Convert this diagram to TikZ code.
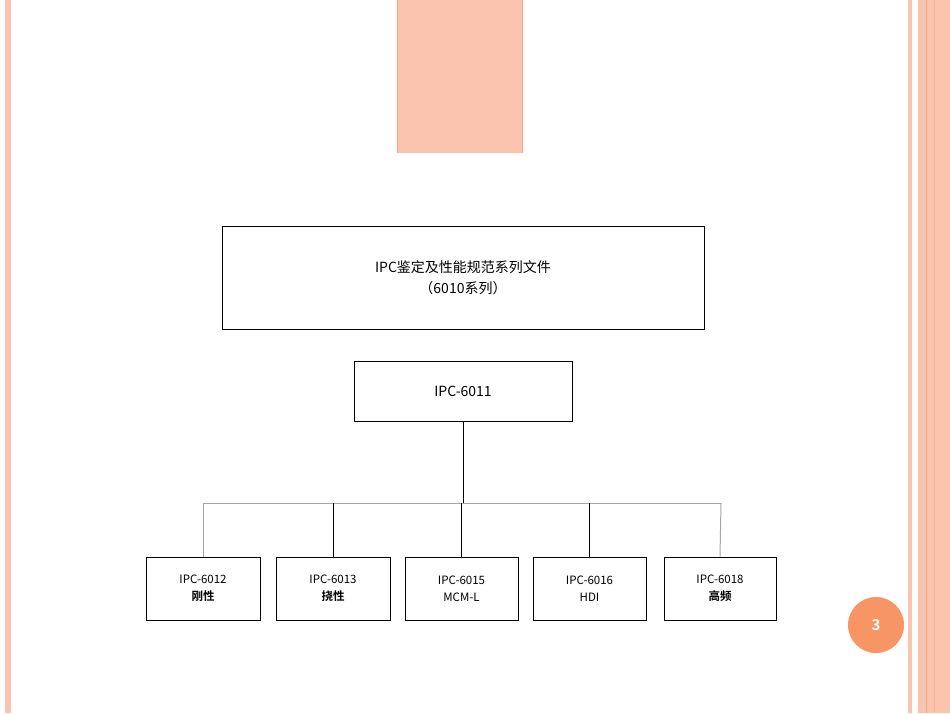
\documentclass[tikz,border=0pt]{standalone}
\usepackage{fontspec}
\setmainfont{Noto Sans CJK SC}[BoldFont={Noto Sans CJK SC Bold}]
\begin{document}
\begin{tikzpicture}[x=1pt,y=-1pt,
  box/.style={draw=black,line width=1pt,align=center,inner sep=0pt},
  conn/.style={line width=1pt},
  gconn/.style={line width=1pt,draw=gray!70}]
\definecolor{peach}{HTML}{FBC4AE}
\definecolor{peachd}{HTML}{F4A583}
\definecolor{orng}{HTML}{F79565}
\useasboundingbox (0,0) rectangle (950,713);
\fill[white] (0,0) rectangle (950,713);
\fill[peach] (5,0) rectangle (11,713);
\fill[peach] (908,0) rectangle (912,713);
\fill[peach] (918,0) rectangle (950,713);
\draw[peachd,line width=0.8pt] (926,0) -- (926,713);
\draw[peach!80!orange,line width=0.6pt] (934,0) -- (934,713);
\fill[peach] (397,0) rectangle (522,153);
\draw[peachd,line width=0.8pt] (397,0) -- (397,153) (522,0) -- (522,153);
\node[box,minimum width=482pt,minimum height=103pt,font=\fontsize{14}{21}\selectfont] (top) at (463,277.5) {IPC鉴定及性能规范系列文件\\（6010系列）};
\node[box,minimum width=218pt,minimum height=60pt,font=\fontsize{14}{17}\selectfont] (mid) at (463,391) {IPC-6011};
\coordinate (j) at (463,503);
\tikzset{bb/.style={box,minimum height=63pt,font=\fontsize{11.5}{17}\selectfont}}
\node[bb,minimum width=114pt] (b1) at (203,588.5) {IPC-6012\\\textbf{刚性}};
\node[bb,minimum width=114pt] (b2) at (333,588.5) {IPC-6013\\\textbf{挠性}};
\node[bb,minimum width=113pt] (b3) at (461.5,588.5) {IPC-6015\\MCM-L};
\node[bb,minimum width=113pt] (b4) at (589.5,588.5) {IPC-6016\\HDI};
\node[bb,minimum width=112pt] (b5) at (720,588.5) {IPC-6018\\\textbf{高频}};
\coordinate (l) at (203,503); \coordinate (r) at (721,503);
\draw[conn] (mid.south) -- (j);
\draw[gconn] (l) -- (r);
\draw[gconn] (l) -- (b1.north);
\draw[gconn] (r) -- (b5.north);
\draw[conn] (b2.north) -- (333,503);
\draw[conn] (b3.north) -- (461.5,503);
\draw[conn] (b4.north) -- (589.5,503);
\node[circle,fill=orng,minimum size=56pt,text=white,font=\fontsize{15}{17}\selectfont\bfseries] (pg) at (876,625) {3};
\end{tikzpicture}
\end{document}
